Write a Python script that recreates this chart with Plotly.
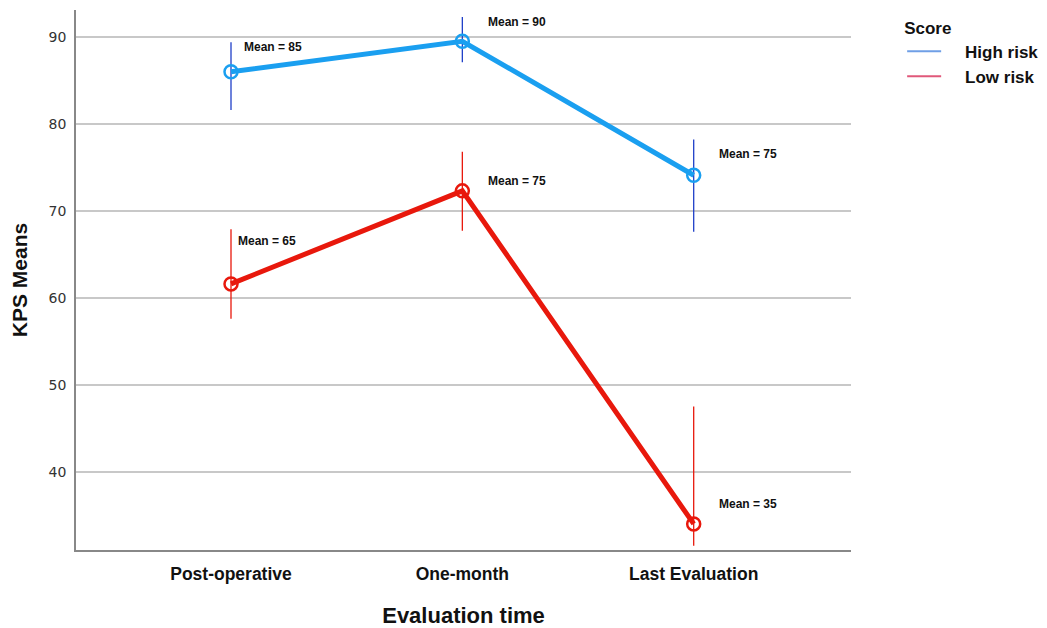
import plotly.graph_objects as go

categories = ["Post-operative", "One-month", "Last Evaluation"]
high_mean = [86.0, 89.5, 74.1]
high_upper = [89.4, 92.3, 78.2]
high_lower = [81.6, 87.1, 67.6]
low_mean = [61.6, 72.3, 34.0]
low_upper = [67.9, 76.8, 47.5]
low_lower = [57.6, 67.7, 31.5]
high_labels = ["Mean = 85", "Mean = 90", "Mean = 75"]
low_labels = ["Mean = 65", "Mean = 75", "Mean = 35"]
high_label_y = [88.85, 91.7, 76.55]
low_label_y = [66.55, 73.45, 36.3]
high_label_shift = [11, 24, 23]
low_label_shift = [5, 24, 23]

FONT = "Arial, Liberation Sans, Helvetica, sans-serif"
xidx = list(range(len(categories)))
PAD = "&nbsp;" * 4

fig = go.Figure()

def add_series(mean, up, lo, line_col, err_col, name, legend_col):
    fig.add_trace(go.Scatter(
        x=xidx, y=mean, mode="lines+markers", name=name, showlegend=False,
        line=dict(color=line_col, width=5),
        marker=dict(symbol="circle-open", size=13, color=line_col, line=dict(width=2.5, color=line_col)),
        error_y=dict(type="data", symmetric=False,
                     array=[u - m for u, m in zip(up, mean)],
                     arrayminus=[m - l for m, l in zip(mean, lo)],
                     color=err_col, thickness=1.3, width=0),
    ))
    fig.add_trace(go.Scatter(
        x=[None], y=[None], mode="lines", name=PAD + "<b>" + name + "</b>", showlegend=True,
        line=dict(color=legend_col, width=2),
    ))

add_series(high_mean, high_upper, high_lower, "#1a9ff0", "#1f3fc8", "High risk", "#6f9fe6")
add_series(low_mean, low_upper, low_lower, "#e8180c", "#e8180c", "Low risk", "#e0587a")

for i in xidx:
    fig.add_annotation(x=i, y=high_label_y[i], text="<b>" + high_labels[i] + "</b>",
                       showarrow=False, xanchor="left", xshift=high_label_shift[i],
                       font=dict(family=FONT, size=12, color="#111"))
    fig.add_annotation(x=i, y=low_label_y[i], text="<b>" + low_labels[i] + "</b>",
                       showarrow=False, xanchor="left", xshift=low_label_shift[i],
                       font=dict(family=FONT, size=12, color="#111"))

fig.update_layout(
    width=1047, height=628,
    margin=dict(l=68, r=204, t=2, b=86),
    paper_bgcolor="white", plot_bgcolor="white",
    font=dict(family=FONT, color="#111"),
    legend=dict(
        title=dict(text="<b>Score</b>", font=dict(family=FONT, size=17, color="#111")),
        x=1.066, y=0.997, xanchor="left", yanchor="top",
        font=dict(family=FONT, size=17, color="#111"),
        itemwidth=34, tracegroupgap=0,
    ),
    xaxis=dict(
        range=[-0.67, 2.68], tickmode="array", tickvals=xidx,
        ticktext=["<b>" + c + "</b>" for c in categories],
        tickfont=dict(family=FONT, size=17.5, color="#111"),
        showgrid=False, zeroline=False, showline=True, linecolor="#888", linewidth=1.5,
        ticks="", ticklabelstandoff=7, automargin=False,
        title=dict(text="<b>Evaluation time</b>", font=dict(family=FONT, size=22, color="#111"), standoff=25),
    ),
    yaxis=dict(
        range=[31.0, 93.1], tickvals=[40, 50, 60, 70, 80, 90],
        tickfont=dict(family="DejaVu Sans, sans-serif", size=14, color="#333"),
        showgrid=True, gridcolor="#c8c8c8", gridwidth=2, zeroline=False,
        showline=True, linecolor="#888", linewidth=1.5, ticks="", ticklabelstandoff=5, automargin=False,
        title=dict(text="<b>KPS Means</b>", font=dict(family=FONT, size=21, color="#111"), standoff=15),
    ),
)

fig.write_html("out.html")
